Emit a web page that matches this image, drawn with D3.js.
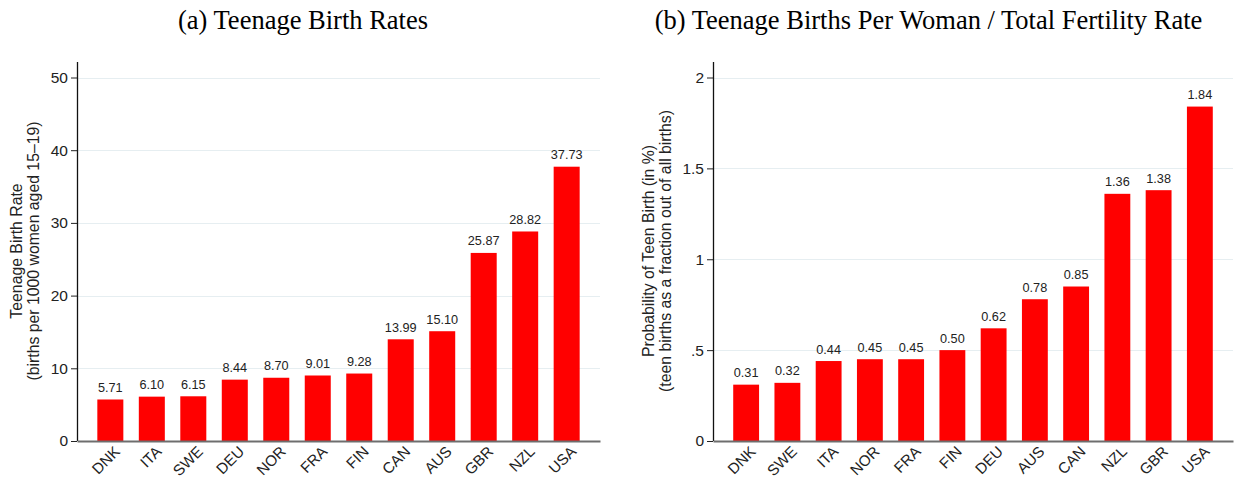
<!DOCTYPE html>
<meta charset="utf-8">
<style>
body { margin: 0; background: #fff; }
text { font-family: "Liberation Sans", Arial, sans-serif; fill: #222; }
.title { font-family: "Liberation Serif", "Times New Roman", serif; font-size: 26.5px; fill: #000; }
.bar { fill: #ff0000; }
.grid line { stroke: #e6eef1; stroke-width: 1; }
</style>
<body>
<script src="https://d3js.org/d3.v7.min.js"></script>
<script>

// panel (a)
var countriesA = ["DNK", "ITA", "SWE", "DEU", "NOR", "FRA", "FIN", "CAN", "AUS", "GBR", "NZL", "USA"];
var ratesA = [5.71, 6.10, 6.15, 8.44, 8.70, 9.01, 9.28, 13.99, 15.10, 25.87, 28.82, 37.73];
var ticksA = [0, 10, 20, 30, 40, 50];
var tickLabelsA = ["0", "10", "20", "30", "40", "50"];

// panel (b)
var countriesB = ["DNK", "SWE", "ITA", "NOR", "FRA", "FIN", "DEU", "AUS", "CAN", "NZL", "GBR", "USA"];
var ratesB = [0.31, 0.32, 0.44, 0.45, 0.45, 0.50, 0.62, 0.78, 0.85, 1.36, 1.38, 1.84];
var ticksB = [0, 0.5, 1, 1.5, 2];
var tickLabelsB = ["0", ".5", "1", "1.5", "2"];

var svg = d3.select("body").append("svg")
    .attr("width", 1237)
    .attr("height", 480);

function panel(opts) {
  var x = d3.scaleBand()
      .domain(opts.cats)
      .range([opts.left, opts.right])
      .paddingInner(0.373)
      .paddingOuter(0.49);

  var y = d3.scaleLinear()
      .domain([0, opts.ymax])
      .range([441, 77.5]);

  var g = svg.append("g");

  g.append("text")
      .attr("class", "title")
      .attr("x", opts.titleX)
      .attr("y", 28.5)
      .attr("text-anchor", "middle")
      .text(opts.title);

  // gridlines
  g.append("g")
      .attr("class", "grid")
      .selectAll("line")
      .data(opts.ticks.slice(1))
    .enter().append("line")
      .attr("x1", opts.left)
      .attr("x2", opts.right)
      .attr("y1", function(d) { return Math.round(y(d)) + 0.5; })
      .attr("y2", function(d) { return Math.round(y(d)) + 0.5; });

  // bars
  g.selectAll(".bar")
      .data(opts.vals)
    .enter().append("rect")
      .attr("class", "bar")
      .attr("x", function(d, i) { return x(opts.cats[i]); })
      .attr("width", x.bandwidth())
      .attr("y", function(d) { return y(d); })
      .attr("height", function(d) { return y(0) - y(d); });

  // bar labels
  g.selectAll(".lbl")
      .data(opts.vals)
    .enter().append("text")
      .attr("class", "lbl")
      .attr("x", function(d, i) { return x(opts.cats[i]) + x.bandwidth() / 2; })
      .attr("y", function(d) { return y(d) - 7.5; })
      .attr("text-anchor", "middle")
      .style("font-size", "12.7px")
      .text(function(d) { return d.toFixed(2); });

  // y axis
  var yAxis = g.append("g")
      .attr("transform", "translate(" + opts.left + ",0)")
      .call(d3.axisLeft(y)
        .tickValues(opts.ticks)
        .tickFormat(function(d, i) { return opts.tickLabels[i]; })
        .tickSize(6)
        .tickPadding(3));
  yAxis.select(".domain").remove();
  yAxis.selectAll(".tick line").attr("stroke", "#222");
  yAxis.selectAll(".tick text")
      .style("font-size", "15.5px")
      .style("font-family", "'Liberation Sans', Arial, sans-serif")
      .attr("fill", "#222");
  g.append("line")
      .attr("x1", opts.left + 0.5)
      .attr("x2", opts.left + 0.5)
      .attr("y1", 62)
      .attr("y2", 441)
      .attr("stroke", "#111")
      .attr("stroke-width", 1.3);

  // x axis
  var xAxis = g.append("g")
      .attr("transform", "translate(0,441)")
      .call(d3.axisBottom(x).tickSize(0).tickPadding(0));
  xAxis.select(".domain")
      .attr("stroke", "#6e6e6e")
      .attr("stroke-width", 2.2);
  xAxis.selectAll(".tick text")
      .style("font-size", "15.2px")
      .style("font-family", "'Liberation Sans', Arial, sans-serif")
      .attr("fill", "#222")
      .attr("text-anchor", "end")
      .attr("dy", null)
      .attr("y", 0)
      .attr("transform", "translate(10.5,11.5) rotate(-45)");

  // y title
  var t = g.append("text")
      .attr("transform", "translate(" + opts.titleYX + ",251) rotate(-90)")
      .attr("text-anchor", "middle")
      .style("font-size", "15.8px");
  t.append("tspan").attr("x", 0).attr("y", 0).text(opts.ytitle[0]);
  t.append("tspan").attr("x", 0).attr("y", 16.5).text(opts.ytitle[1]);
}

panel({
  cats: countriesA, vals: ratesA, ticks: ticksA, tickLabels: tickLabelsA,
  ymax: 50, left: 77, right: 600, titleX: 303, titleYX: 22,
  title: "(a) Teenage Birth Rates",
  ytitle: ["Teenage Birth Rate", "(births per 1000 women aged 15\u201319)"]
});

panel({
  cats: countriesB, vals: ratesB, ticks: ticksB, tickLabels: tickLabelsB,
  ymax: 2, left: 713, right: 1233, titleX: 928.5, titleYX: 654,
  title: "(b) Teenage Births Per Woman / Total Fertility Rate",
  ytitle: ["Probability of Teen Birth (in %)", "(teen births as a fraction out of all births)"]
});

</script>
</body>
